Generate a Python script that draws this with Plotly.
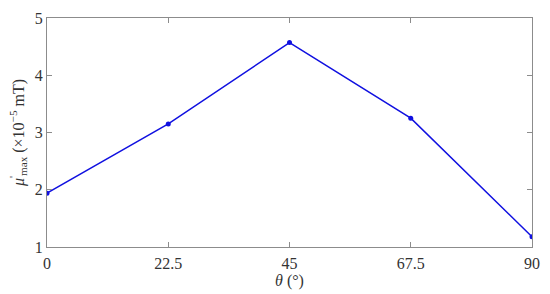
import plotly.graph_objects as go

theta = [0, 22.5, 45, 67.5, 90]
mu_max = [1.94, 3.15, 4.57, 3.25, 1.18]

serif = "Liberation Serif"

fig = go.Figure()
fig.add_trace(go.Scatter(
    x=theta,
    y=mu_max,
    mode="lines+markers",
    line=dict(color="#1010e0", width=1.5),
    marker=dict(size=5, color="#1010e0"),
    showlegend=False,
))

axis_style = dict(
    showgrid=False,
    zeroline=False,
    showline=True,
    linecolor="#8c8c8c",
    linewidth=1,
    mirror="ticks",
    ticks="inside",
    ticklen=5,
    tickcolor="#8c8c8c",
    tickfont=dict(family=serif, size=16, color="#333"),
)

fig.update_layout(
    width=550,
    height=294,
    margin=dict(l=47, r=13, t=10, b=47),
    font=dict(family=serif, size=16, color="#333"),
    plot_bgcolor="white",
    paper_bgcolor="white",
    xaxis=dict(
        axis_style,
        range=[0, 90],
        tickvals=theta,
        ticktext=["0", "22.5", "45", "67.5", "90"],
        ticklabelstandoff=2,
        title=dict(text="<i>θ</i> (°)", font=dict(family=serif, size=16, color="#333"), standoff=0),
    ),
    yaxis=dict(
        axis_style,
        range=[1, 5],
        tickvals=[1, 2, 3, 4, 5],
        title=dict(text="<i>μ</i><sup>'</sup><sub>max</sub> (×10<sup>−5</sup> mT)",
                   font=dict(family=serif, size=16, color="#333"), standoff=6),
    ),
)

# drop the page's default body margin so the 550x294 figure fills the window
fig.write_html("out.html", config={"displayModeBar": False},
               post_script="document.body.style.margin='0';")
